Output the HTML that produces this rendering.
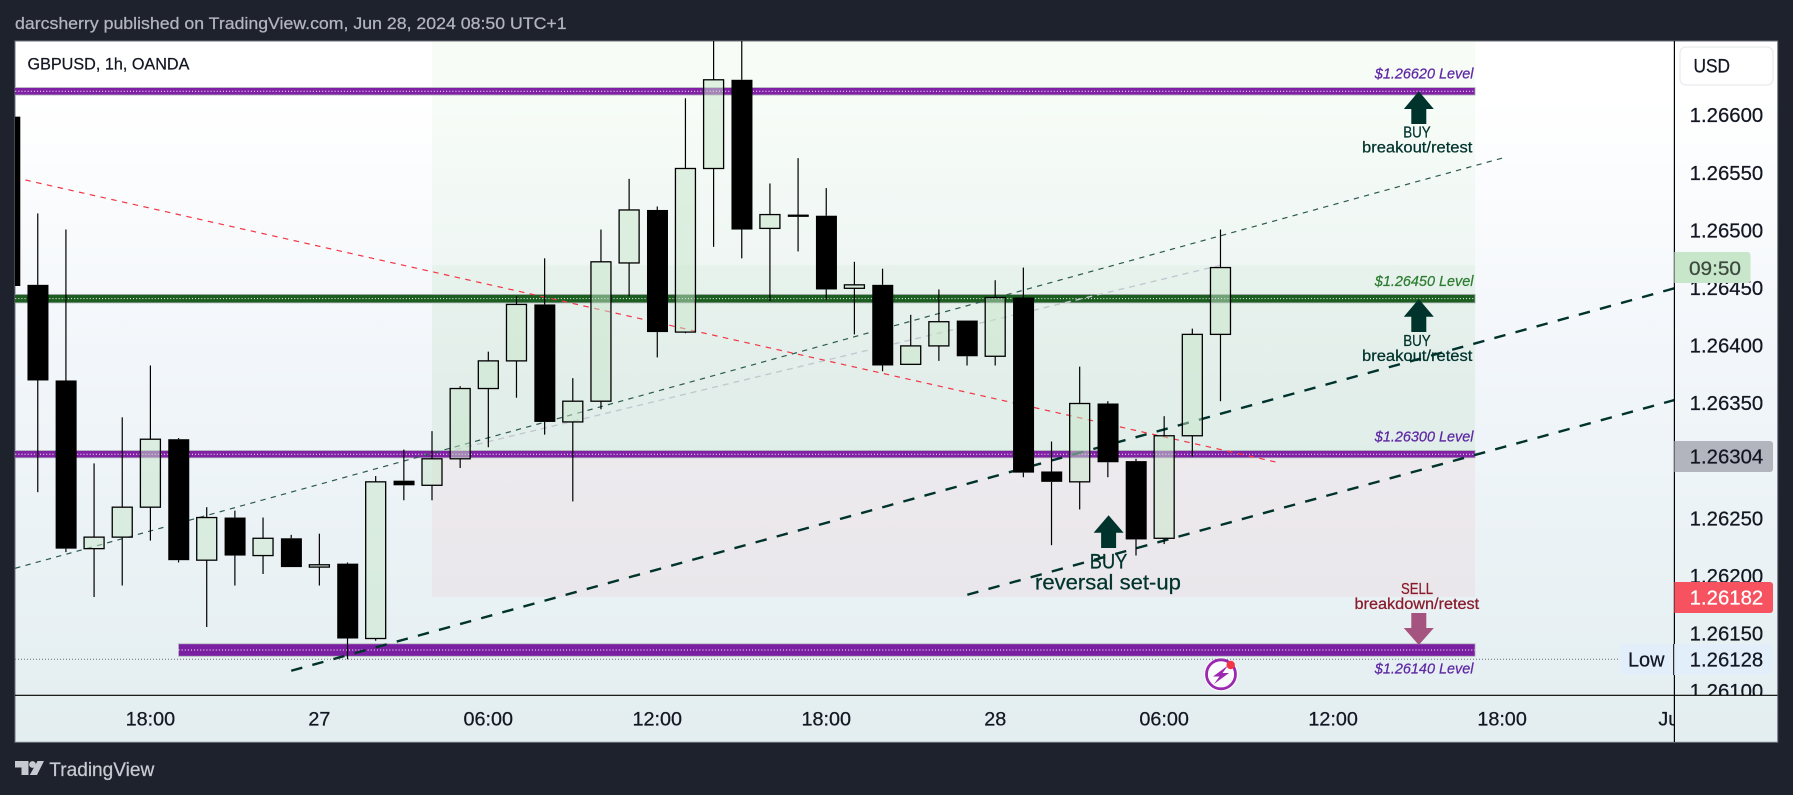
<!DOCTYPE html>
<html lang="en">
<head>
<meta charset="utf-8">
<title>GBPUSD 1h chart</title>
<style>
html,body{margin:0;padding:0;background:#1e222d;width:1793px;height:795px;overflow:hidden}
svg{display:block;font-family:"Liberation Sans",sans-serif}
</style>
</head>
<body>
<svg id="chart" xmlns="http://www.w3.org/2000/svg" width="1793" height="795" viewBox="0 0 1793 795">
  <defs>
    <linearGradient id="bgGrad" x1="0" y1="0" x2="0" y2="1">
      <stop offset="0" stop-color="#ffffff"/>
      <stop offset="0.08" stop-color="#ffffff"/>
      <stop offset="0.45" stop-color="#f2f6fa"/>
      <stop offset="1" stop-color="#e3eef0"/>
    </linearGradient>
    <clipPath id="plotClip"><rect x="15" y="41" width="1659.4" height="654.3"/></clipPath>
    <clipPath id="timeClip"><rect x="15" y="696" width="1659.4" height="46"/></clipPath>
    <clipPath id="priceClip"><rect x="1675" y="41" width="102" height="654.3"/></clipPath>
  </defs>

  <text x="15" y="29" font-size="17" fill="#b2b5be" textLength="551.6" lengthAdjust="spacingAndGlyphs">darcsherry published on TradingView.com, Jun 28, 2024 08:50 UTC+1</text>

  <rect x="15" y="41" width="1762.7" height="701.3" fill="url(#bgGrad)" stroke="#6f727c" stroke-width="1"/>

  <g id="drawings" clip-path="url(#plotClip)"></g>
  <g id="candles" clip-path="url(#plotClip)"></g>

  <g id="annotations">
    <text x="1374.8" y="78.7" font-size="15" font-style="italic" fill="#5e27a5" textLength="98.7" lengthAdjust="spacingAndGlyphs">$1.26620 Level</text>
    <text x="1374.8" y="286" font-size="15" font-style="italic" fill="#2e7d32" textLength="98.7" lengthAdjust="spacingAndGlyphs">$1.26450 Level</text>
    <text x="1374.8" y="441.7" font-size="15" font-style="italic" fill="#5e27a5" textLength="98.7" lengthAdjust="spacingAndGlyphs">$1.26300 Level</text>
    <text x="1374.8" y="673.3" font-size="15" font-style="italic" fill="#5e27a5" textLength="98.7" lengthAdjust="spacingAndGlyphs">$1.26140 Level</text>

    <polygon fill="#00332c" points="1418.8,91.3 1433.8,109 1426.3,109 1426.3,124 1411.3,124 1411.3,109 1403.8,109"/>
    <text x="1403.2" y="137.7" font-size="15.5" fill="#00332c" textLength="27.5" lengthAdjust="spacingAndGlyphs">BUY</text>
    <text x="1362" y="152.7" font-size="15.5" fill="#00332c" textLength="110.4" lengthAdjust="spacingAndGlyphs">breakout/retest</text>

    <polygon fill="#00332c" points="1418.8,299 1433.8,316.7 1426.3,316.7 1426.3,332 1411.3,332 1411.3,316.7 1403.8,316.7"/>
    <text x="1403.2" y="346" font-size="15.5" fill="#00332c" textLength="27.5" lengthAdjust="spacingAndGlyphs">BUY</text>
    <text x="1362" y="361" font-size="15.5" fill="#00332c" textLength="110.4" lengthAdjust="spacingAndGlyphs">breakout/retest</text>

    <polygon fill="#00332c" points="1108.6,515.3 1123.6,532.7 1116.1,532.7 1116.1,548 1101.1,548 1101.1,532.7 1093.6,532.7"/>
    <text x="1089.8" y="568.7" font-size="21" fill="#00332c" textLength="37.5" lengthAdjust="spacingAndGlyphs">BUY</text>
    <text x="1035" y="589.3" font-size="21" fill="#00332c" textLength="145.9" lengthAdjust="spacingAndGlyphs">reversal set-up</text>

    <text x="1401" y="594" font-size="15.5" fill="#8b1a2b" textLength="32" lengthAdjust="spacingAndGlyphs">SELL</text>
    <text x="1354.5" y="609" font-size="15.5" fill="#8b1a2b" textLength="124.7" lengthAdjust="spacingAndGlyphs">breakdown/retest</text>
    <polygon fill="#a55480" points="1411.3,613 1426.3,613 1426.3,628 1433.8,628 1418.8,645 1403.8,628 1411.3,628"/>

    <g>
      <circle cx="1221" cy="674.3" r="17" fill="#ffffff" fill-opacity="0.8"/>
      <circle cx="1221" cy="674.3" r="14.5" fill="none" stroke="#9c27b0" stroke-width="2.8"/>
      <polygon fill="#9c27b0" points="1228,665.5 1213,676.5 1219.5,676.5 1214,684 1229,673 1222.5,673"/>
      <circle cx="1230.7" cy="665" r="4.2" fill="#f23645"/>
    </g>

    <text x="27.5" y="69.3" font-size="16.5" fill="#131722" textLength="161.9" lengthAdjust="spacingAndGlyphs">GBPUSD, 1h, OANDA</text>
  </g>

  <line x1="15" x2="1619" y1="659.3" y2="659.3" stroke="#6a6d78" stroke-width="1" stroke-dasharray="1 2"/>

  <g id="timeAxis" clip-path="url(#timeClip)"></g>
  <g id="priceAxis" clip-path="url(#priceClip)"></g>

  <line x1="1674.4" x2="1674.4" y1="41" y2="742" stroke="#000000" stroke-width="1.2"/>
  <line x1="15" x2="1777.5" y1="695.3" y2="695.3" stroke="#000000" stroke-width="1.2"/>

  <g>
    <rect x="1680" y="47" width="93" height="38" rx="6" fill="#ffffff" stroke="#e8e9ee" stroke-width="1.2"/>
    <text x="1693.5" y="72.7" font-size="19" fill="#131722" textLength="36.5" lengthAdjust="spacingAndGlyphs">USD</text>
  </g>

  <g>
    <path d="M1674.4 252H1747.5a3 3 0 0 1 3 3V280a3 3 0 0 1 -3 3H1674.4Z" fill="#c8e6c9"/>
    <text x="1689" y="275" font-size="19.5" fill="#3c4a3e" textLength="52" lengthAdjust="spacingAndGlyphs">09:50</text>
  </g>
  <g>
    <path d="M1674.4 441H1770a3 3 0 0 1 3 3V469a3 3 0 0 1 -3 3H1674.4Z" fill="#b2b5be"/>
    <text x="1689.7" y="463.5" font-size="20" fill="#131722" textLength="73.5" lengthAdjust="spacingAndGlyphs">1.26304</text>
  </g>
  <g>
    <path d="M1674.4 582H1770a3 3 0 0 1 3 3V610a3 3 0 0 1 -3 3H1674.4Z" fill="#f7525f"/>
    <text x="1689.7" y="604.5" font-size="20" fill="#ffffff" textLength="73.5" lengthAdjust="spacingAndGlyphs">1.26182</text>
  </g>
  <g>
    <rect x="1619.7" y="644" width="153.3" height="31" fill="#e3eefb"/>
    <line x1="1673.7" x2="1673.7" y1="644" y2="675" stroke="#000000" stroke-width="1"/>
    <text x="1628" y="666.7" font-size="20" fill="#131722" textLength="36.5" lengthAdjust="spacingAndGlyphs">Low</text>
    <text x="1689.7" y="666.7" font-size="20" fill="#131722" textLength="73.5" lengthAdjust="spacingAndGlyphs">1.26128</text>
  </g>

  <g>
    <path d="M15 761H28.5V775H21.5V767.5H15Z" fill="#c8cad1"/>
    <circle cx="32.5" cy="764.5" r="3.4" fill="#c8cad1"/>
    <path d="M37.5 761H44L37 775H29.8Z" fill="#c8cad1"/>
    <text x="49.3" y="776" font-size="19.5" fill="#c8cad1" textLength="105" lengthAdjust="spacingAndGlyphs">TradingView</text>
  </g>
</svg>

<script>
// Candle data. Index 0 of barIndexes is the first visible bar.
const barIndexes = [-5,-4,-3,-2,-1,0,1,2,3,4,5,6,7,8,9,10,11,12,13,14,15,16,17,18,19,20,21,22,23,24,25,26,27,28,29,30,31,32,33,34,35,36,37,38];
const opens  = [1.26599,1.26453,1.26370,1.26224,1.26234,1.26260,1.26319,1.26214,1.26251,1.26218,1.26233,1.26208,1.26211,1.26146,1.26283,1.26279,1.26302,1.26363,1.26387,1.26436,1.26334,1.26352,1.26472,1.26518,1.26412,1.26554,1.26631,1.26502,1.26514,1.26513,1.26450,1.26453,1.26384,1.26400,1.26422,1.26391,1.26442,1.26291,1.26282,1.26350,1.26300,1.26233,1.26322,1.26410];
const highs  = [1.26600,1.26515,1.26501,1.26298,1.26338,1.26383,1.26320,1.26260,1.26257,1.26251,1.26236,1.26237,1.26212,1.26287,1.26310,1.26326,1.26365,1.26395,1.26443,1.26476,1.26372,1.26501,1.26545,1.26521,1.26615,1.26674,1.26680,1.26541,1.26563,1.26537,1.26473,1.26467,1.26427,1.26449,1.26422,1.26457,1.26468,1.26317,1.26382,1.26352,1.26302,1.26339,1.26415,1.26501];
const lows   = [1.26450,1.26273,1.26221,1.26182,1.26192,1.26231,1.26212,1.26156,1.26192,1.26202,1.26208,1.26192,1.26128,1.26144,1.26266,1.26266,1.26294,1.26312,1.26355,1.26323,1.26265,1.26345,1.26443,1.26390,1.26411,1.26486,1.26476,1.26439,1.26482,1.26440,1.26410,1.26378,1.26384,1.26387,1.26383,1.26383,1.26286,1.26227,1.26258,1.26286,1.26218,1.26228,1.26304,1.26352];
const closes = [1.26452,1.26370,1.26224,1.26234,1.26260,1.26319,1.26214,1.26251,1.26218,1.26233,1.26208,1.26210,1.26146,1.26282,1.26279,1.26302,1.26363,1.26387,1.26436,1.26334,1.26352,1.26473,1.26518,1.26412,1.26554,1.26631,1.26501,1.26514,1.26512,1.26449,1.26453,1.26383,1.26400,1.26421,1.26391,1.26442,1.26290,1.26282,1.26350,1.26299,1.26232,1.26322,1.26410,1.26468];

const priceTicks = [1.266,1.2655,1.265,1.2645,1.264,1.2635,1.263,1.2625,1.262,1.2615,1.261];
const priceTickLabels = ["1.26600","1.26550","1.26500","1.26450","1.26400","1.26350","","1.26250","1.26200","1.26150","1.26100"];
const timeTickBars = [0,6,12,18,24,30,36,42,48,54];
const timeTickLabels = ["18:00","27","06:00","12:00","18:00","28","06:00","12:00","18:00","Jul"];

// Zones: bar start, bar end, top price, bottom price
const zoneStartBar = 10;
const zoneEndBar = 47.04;
const zoneTopPrices = [1.26680,1.26470,1.26304];
const zoneBottomPrices = [1.26470,1.26304,1.26182];

// Horizontal levels
const levelPrices = [1.26621,1.26441,1.26306,1.26136];
const levelStartBars = [-5.9,-5.9,-5.9,1];

// Trend lines: start bar, start price, end bar, end price
const trendStartBars = [5,29.01,-4.8,10.83,-4.44];
const trendStartPrices = [1.26118,1.26184,1.26207,1.26310,1.26544];
const trendEndBars = [54.12,54.12,48,38,40];
const trendEndPrices = [1.26450,1.26353,1.26563,1.26470,1.26299];

const SVGNS = "http://www.w3.org/2000/svg";

function xScale(bar){ return 150.4 + bar * 28.16; }
function yScale(price){ return 115.5 + (1.26600 - price) * 115200; }

function make(tag, parent){
  const el = document.createElementNS(SVGNS, tag);
  parent.appendChild(el);
  return el;
}

const drawingsLayer = document.getElementById("drawings");
const candleLayer = document.getElementById("candles");
const timeLayer = document.getElementById("timeAxis");
const priceLayer = document.getElementById("priceAxis");

// Zones
const zoneFills = ["rgba(76,175,80,0.045)","rgba(76,175,80,0.085)","rgba(242,54,69,0.05)"];
const zoneNames = ["zone-upper-green","zone-lower-green","zone-pink"];
zoneTopPrices.forEach(function(top, i){
  const r = make("rect", drawingsLayer);
  
  
  r.setAttribute("x", xScale(zoneStartBar));
  r.setAttribute("width", xScale(zoneEndBar) - xScale(zoneStartBar));
  r.setAttribute("y", yScale(top));
  r.setAttribute("height", yScale(zoneBottomPrices[i]) - yScale(top));
  r.setAttribute("fill", zoneFills[i]);
});

// Horizontal level bands
const levelColors = ["#8020a5","#1b5e20","#8020a5","#7b1fa2"];
const levelHeights = [7.4,8.4,7.2,12.4];
levelPrices.forEach(function(price, i){
  const y = yScale(price);
  const x0 = xScale(levelStartBars[i]);
  const x1 = xScale(zoneEndBar);
  const h = levelHeights[i];
  const band = make("rect", drawingsLayer);
  
  
  band.setAttribute("x", x0);
  band.setAttribute("y", y - h / 2);
  band.setAttribute("width", x1 - x0);
  band.setAttribute("height", h);
  band.setAttribute("fill", levelColors[i]);
  band.setAttribute("stroke", "#a9adb2");
  band.setAttribute("stroke-width", "0.8");
  const dots = make("line", drawingsLayer);
  
  
  dots.setAttribute("x1", x0);
  dots.setAttribute("x2", x1);
  dots.setAttribute("y1", y);
  dots.setAttribute("y2", y);
  dots.setAttribute("stroke", "#ffffff");
  dots.setAttribute("stroke-width", "1");
  dots.setAttribute("stroke-dasharray", "1 2.1");
});

// Trend lines
const trendColors = ["#00332c","#00332c","#2c5a50","#c3c8d0","#f23645"];
const trendWidths = [2.4,2.4,1.2,1.4,1.2];
const trendDashes = ["11.5 10.4","11.5 10.4","5.3 5.3","6 5","5.5 5.5"];
const trendNames = ["trendline-upper-channel","trendline-lower-channel","trendline-thin-dashed","forecast-line-grey","trendline-red-descending"];
trendStartBars.forEach(function(bar, i){
  const l = make("line", drawingsLayer);
  
  
  l.setAttribute("x1", xScale(bar));
  l.setAttribute("y1", yScale(trendStartPrices[i]));
  l.setAttribute("x2", xScale(trendEndBars[i]));
  l.setAttribute("y2", yScale(trendEndPrices[i]));
  l.setAttribute("stroke", trendColors[i]);
  l.setAttribute("stroke-width", trendWidths[i]);
  l.setAttribute("stroke-dasharray", trendDashes[i]);
});

// Candles
const BODY_W = 20.6;
barIndexes.forEach(function(bar, i){
  const cx = xScale(bar);
  const up = closes[i] >= opens[i];
  const top = yScale(Math.max(opens[i], closes[i]));
  const bottom = yScale(Math.min(opens[i], closes[i]));
  const g = make("g", candleLayer);
  
  

  const upperWick = make("line", g);
  
  
  upperWick.setAttribute("x1", cx);
  upperWick.setAttribute("x2", cx);
  upperWick.setAttribute("y1", yScale(highs[i]));
  upperWick.setAttribute("y2", top);
  upperWick.setAttribute("stroke", "#000000");
  upperWick.setAttribute("stroke-width", "1.2");

  const lowerWick = make("line", g);
  
  
  lowerWick.setAttribute("x1", cx);
  lowerWick.setAttribute("x2", cx);
  lowerWick.setAttribute("y1", bottom);
  lowerWick.setAttribute("y2", yScale(lows[i]));
  lowerWick.setAttribute("stroke", "#000000");
  lowerWick.setAttribute("stroke-width", "1.2");

  const body = make("rect", g);
  
  
  if (up) {
    body.setAttribute("x", cx - BODY_W / 2 + 0.3);
    body.setAttribute("width", BODY_W - 0.6);
    body.setAttribute("y", top);
    body.setAttribute("height", Math.max(bottom - top, 1));
    body.setAttribute("fill", "rgba(200,230,201,0.5)");
    body.setAttribute("stroke", "#000000");
    body.setAttribute("stroke-width", "1.3");
  } else {
    body.setAttribute("x", cx - BODY_W / 2);
    body.setAttribute("width", BODY_W + 0.4);
    body.setAttribute("y", top);
    body.setAttribute("height", Math.max(bottom - top, 1));
    body.setAttribute("fill", "#000000");
  }
});

// Time axis
timeTickBars.forEach(function(bar, i){
  const t = make("text", timeLayer);
  
  
  t.setAttribute("x", xScale(bar));
  t.setAttribute("y", 725.7);
  t.setAttribute("font-size", "19.8");
  t.setAttribute("fill", "#131722");
  t.setAttribute("text-anchor", "middle");
  t.textContent = timeTickLabels[i];
});

// Price axis
priceTicks.forEach(function(price, i){
  if (!priceTickLabels[i]) return;
  const t = make("text", priceLayer);
  
  
  t.setAttribute("x", 1689.7);
  t.setAttribute("y", yScale(price) + 6.7);
  t.setAttribute("font-size", "20");
  t.setAttribute("fill", "#131722");
  t.setAttribute("textLength", "73.5");
  t.setAttribute("lengthAdjust", "spacingAndGlyphs");
  t.textContent = priceTickLabels[i];
});

// Slightly heavier text weight to match the reference rendering
document.querySelectorAll("text").forEach(function(t){
  t.setAttribute("stroke", t.getAttribute("fill"));
  t.setAttribute("stroke-width", "0.25");
});
</script>
</body>
</html>
